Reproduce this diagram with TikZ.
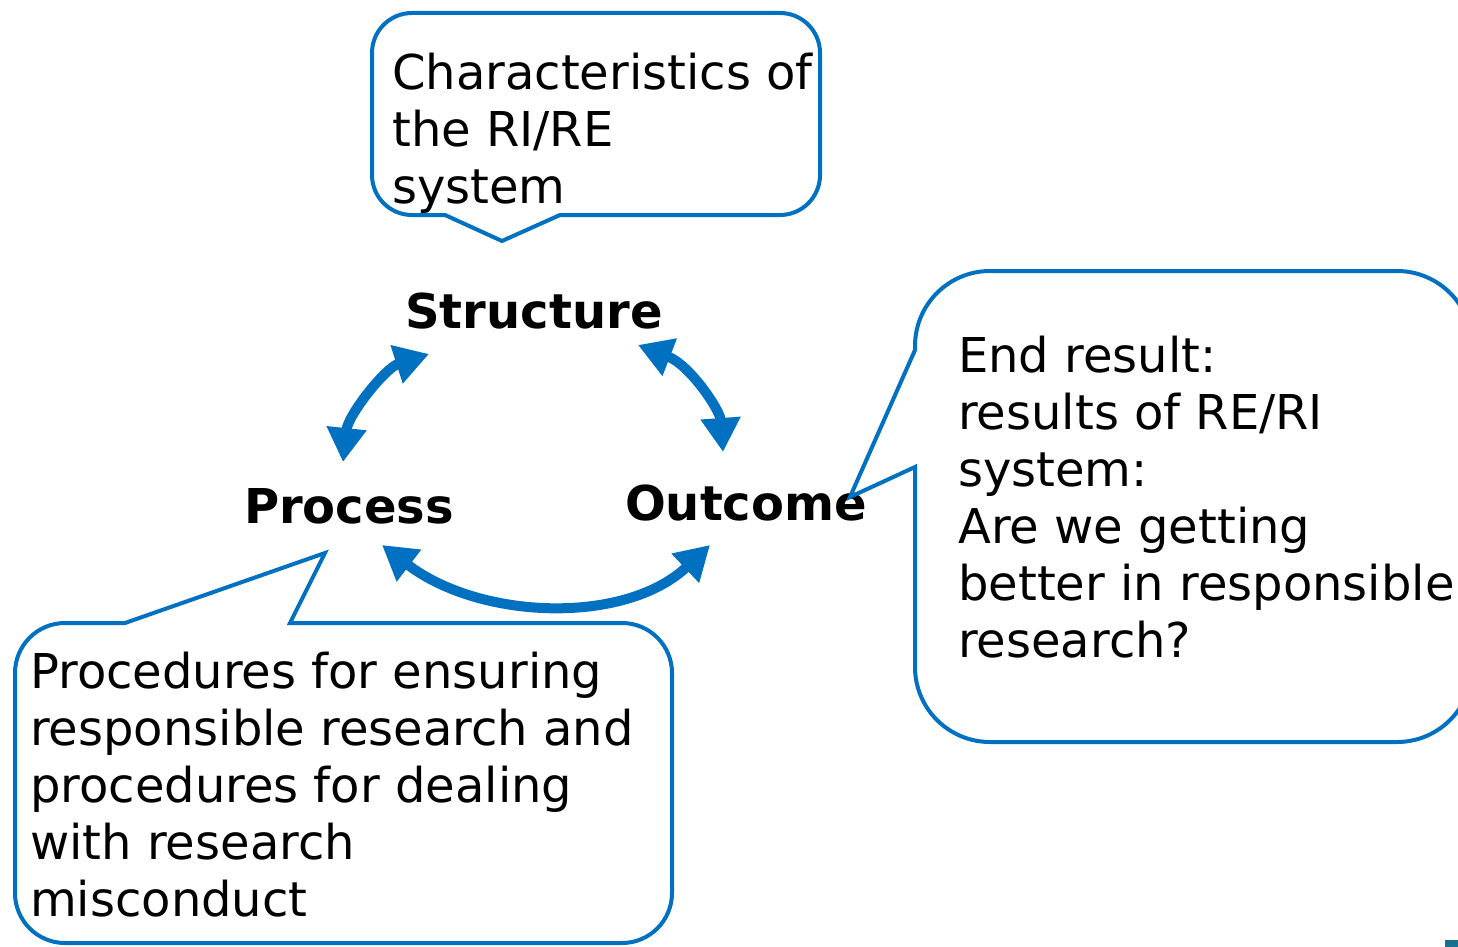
\documentclass[tikz,border=0pt]{standalone}
\usepackage{fontspec}
\setmainfont{DejaVu Sans}
\usetikzlibrary{arrows.meta, positioning}
\definecolor{riblue}{HTML}{0070C0}
\definecolor{cornerteal}{HTML}{1A708E}

\begin{document}
\begin{tikzpicture}[
    x=1pt, y=-1pt,
    callout/.style={draw=riblue, line width=4pt},
    bodytext/.style={font=\fontsize{48}{57}\selectfont, align=left, inner sep=0pt, anchor=base west},
    corelabel/.style={font=\fontsize{48}{57}\selectfont\bfseries, inner sep=0pt, anchor=base},
    cyclearrow/.style={draw=riblue, line width=10pt,
                       {Triangle[length=34pt, width=38pt]}-{Triangle[length=34pt, width=38pt]}}
]
\useasboundingbox (0,0) rectangle (1458,947);
\clip (0,0) rectangle (1458,947);

% --- Core labels ---
\node[corelabel] (structure) at (534,328) {Structure};
\node[corelabel] (process) at (349,523) {Process};
\node[corelabel] (outcome) at (746,520) {Outcome};

% --- Arrow ends ---
\coordinate (ps-a) at (343,462);
\coordinate (ps-b) at (429,354);
\coordinate (so-a) at (638,345);
\coordinate (so-b) at (723,452);
\coordinate (po-a) at (382,545);
\coordinate (po-b) at (710,545);

% --- Cycle arrows ---
\draw[cyclearrow] (ps-a) .. controls (348,415) and (385,368) .. (ps-b);
\draw[cyclearrow] (so-a) .. controls (690,365) and (720,410) .. (so-b);
\draw[cyclearrow] (po-a) .. controls (480,620) and (625,625) .. (po-b);

% --- Callouts ---
\draw[callout] (502,241) -- (560,215) [rounded corners=40pt] -- (820,215) -- (820,13)
    -- (372,13) -- (372,215) [sharp corners] -- (445,215) -- cycle;
\draw[callout] (850,497) -- (915,467) [rounded corners=75pt] -- (915,742) -- (1472,742)
    -- (1472,271) -- (915,271) [sharp corners] -- (915,350) -- cycle;
\draw[callout] (325,553) -- (290,623) [rounded corners=50pt] -- (672,623) -- (672,943)
    -- (15,943) -- (15,623) [sharp corners] -- (125,623) -- cycle;

% --- Callout texts (anchored at the last baseline) ---
\node[bodytext] (structtext) at (392,203) {Characteristics of\\the RI/RE\\system};
\node[bodytext] (outtext) at (958,657) {End result:\\results of RE/RI\\system:\\Are we getting\\better in responsible\\research?};
\node[bodytext] (proctext) at (30,916) {Procedures for ensuring\\responsible research and\\procedures for dealing\\with research\\misconduct};

\fill[cornerteal] (1445,940) rectangle (1458,947);

\end{tikzpicture}
\end{document}
